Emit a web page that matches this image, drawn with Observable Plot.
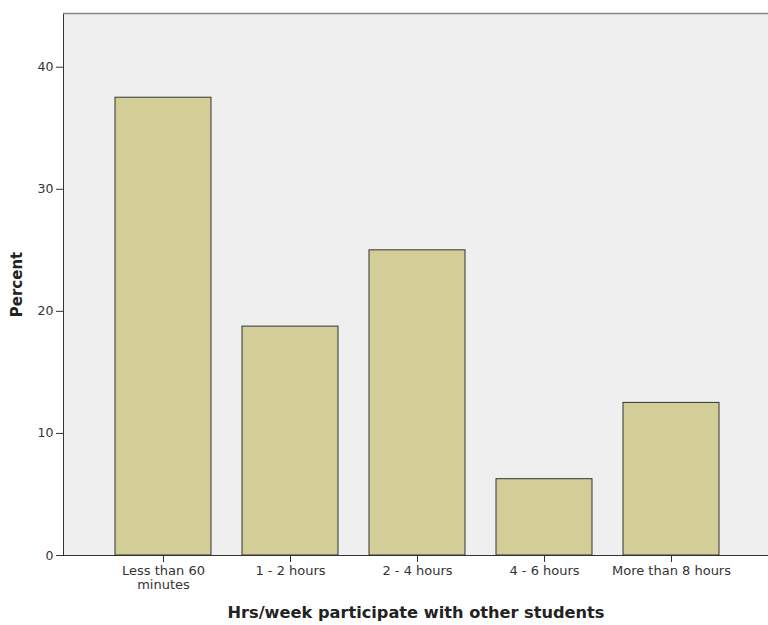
<!DOCTYPE html>
<html>
<head>
<meta charset="utf-8">
<script src="https://cdn.jsdelivr.net/npm/d3@7"></script>
<script src="https://cdn.jsdelivr.net/npm/@observablehq/plot@0.6"></script>
<style>
  html, body { margin: 0; padding: 0; background: #fff; }
  #chart { width: 768px; height: 625px; overflow: hidden; }
</style>
</head>
<body>
<div id="chart"></div>
<script>
const categories = ["Less than 60 minutes", "1 - 2 hours", "2 - 4 hours", "4 - 6 hours", "More than 8 hours"];
const tickLabels = ["Less than 60\nminutes", "1 - 2 hours", "2 - 4 hours", "4 - 6 hours", "More than 8 hours"];
const percents = [37.5, 18.75, 25.0, 6.25, 12.5];
const yTicks = [0, 10, 20, 30, 40];
const yMax = 44.4;
const xTitle = "Hrs/week participate with other students";
const yTitle = "Percent";

const data = categories.map((c, i) => ({category: c, percent: percents[i]}));
const labelOf = new Map(categories.map((c, i) => [c, tickLabels[i]]));

const chart = Plot.plot({
  width: 768,
  height: 625,
  marginTop: 13,
  marginBottom: 70,
  marginLeft: 63,
  marginRight: 0,
  style: {fontFamily: "'DejaVu Sans', sans-serif", fontSize: "12.5px", color: "#333", background: "#fff", overflow: "hidden"},
  x: {
    domain: categories,
    paddingInner: 0.245,
    paddingOuter: 0.379,
    align: 0.51,
    tickSize: 7,
    tickFormat: () => "",
    label: null
  },
  y: {
    domain: [0, yMax],
    ticks: yTicks,
    tickSize: 7,
    tickPadding: 3,
    label: null
  },
  marks: [
    Plot.frame({fill: "#efefef", stroke: "#333"}),
    Plot.ruleY([yMax], {stroke: "#888", strokeWidth: 1.5}),
    Plot.barY(data, {x: "category", y: "percent", fill: "#d3ce97", stroke: "#333", strokeWidth: 1}),
    Plot.ruleY([0], {stroke: "#333"}),
    Plot.text(categories, {x: d => d, text: d => labelOf.get(d), frameAnchor: "bottom", lineAnchor: "top", dy: 10, fontSize: 13, lineHeight: 1.05, fill: "#333"}),
    Plot.text([yTitle], {frameAnchor: "left", textAnchor: "middle", lineAnchor: "middle", dx: -46, rotate: -90, fontWeight: "bold", fontSize: 15, fill: "#222"}),
    Plot.text([xTitle], {frameAnchor: "bottom", textAnchor: "middle", lineAnchor: "middle", dy: 57, fontWeight: "bold", fontSize: 16.2, fill: "#222"})
  ]
});
document.getElementById("chart").appendChild(chart);
</script>
</body>
</html>
